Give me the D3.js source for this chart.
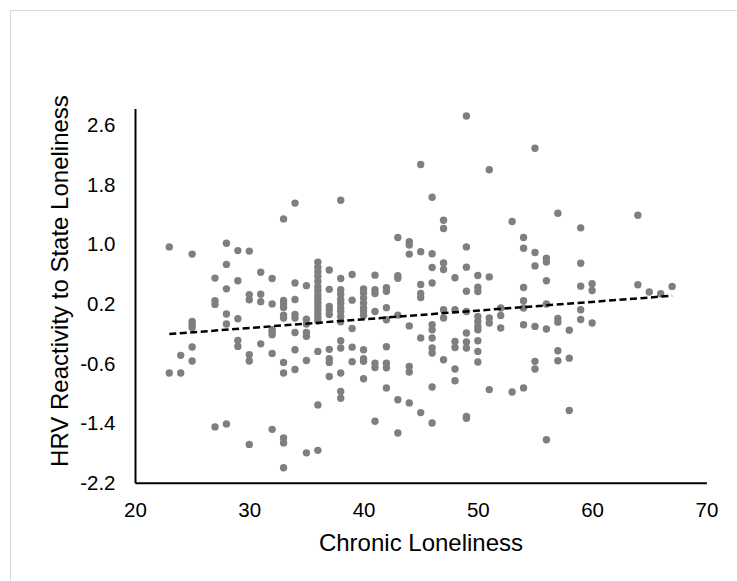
<!DOCTYPE html>
<html>
<head>
<meta charset="utf-8">
<script src="https://cdn.jsdelivr.net/npm/d3@7"></script>
<style>
  html, body { margin: 0; padding: 0; background: #fff; }
  svg { display: block; }
  text { font-family: "Liberation Sans", Arial, sans-serif; }
</style>
</head>
<body>
<div id="chart"></div>
<script>
// ---- Data ----
const chronicLevels = [23, 24, 25, 27, 28, 29, 30, 31, 32, 33, 34, 35, 36, 37, 38, 39, 40, 41, 42, 43, 44, 45, 46, 47, 48, 49, 50, 51, 52, 53, 54, 55, 56, 57, 58, 59, 60, 64, 65, 66, 67];
const hrvByLevel = [
  [0.965, -0.726],
  [-0.49, -0.726],
  [0.868, -0.035, -0.08, -0.116, -0.378, -0.566],
  [0.546, 0.243, 0.193, -1.45],
  [1.013, 0.73, 0.402, 0.064, -0.07, -1.41],
  [0.915, 0.51, 0.0, -0.29, -0.37],
  [0.908, 0.325, 0.256, -0.482, -0.567, -1.685],
  [0.625, 0.33, 0.23, -0.336],
  [0.54, 0.20, -0.146, -0.177, -0.213, -0.464, -1.483],
  [1.34, 0.245, 0.20, 0.153, 0.05, 0.01, -0.585, -0.726, -1.598, -1.665, -1.998],
  [1.552, 0.48, 0.26, 0.06, 0.01, -0.183, -0.415, -0.68],
  [0.445, -0.005, -0.07, -0.184, -0.235, -0.56, -1.798],
  [0.76, 0.69, 0.63, 0.57, 0.50, 0.43, 0.38, 0.32, 0.27, 0.22, 0.17, 0.12, 0.07, 0.02, -0.03, -0.437, -1.155, -1.765],
  [0.655, 0.395, 0.165, 0.12, 0.058, -0.41, -0.535, -0.585, -0.773],
  [1.59, 0.54, 0.39, 0.33, 0.26, 0.21, 0.144, 0.099, 0.032, -0.04, -0.294, -0.392, -0.726, -0.975, -1.065],
  [0.594, 0.25, -0.13, -0.38, -0.575],
  [0.40, 0.345, 0.278, 0.211, 0.144, 0.099, 0.045, -0.416, -0.535, -0.571, -0.805],
  [0.586, 0.39, 0.34, 0.099, -0.595, -0.653, -1.375],
  [0.417, 0.37, 0.15, -0.012, -0.374, -0.597, -0.657, -0.927],
  [1.09, 0.577, 0.543, 0.05, -1.085, -1.532],
  [1.035, 0.99, 0.868, -0.095, -0.64, -0.714, -1.128],
  [2.07, 0.9, 0.46, 0.34, 0.285, -0.256, -1.258],
  [1.63, 0.872, 0.689, 0.48, -0.079, -0.146, -0.258, -0.392, -0.459, -0.914, -1.398],
  [1.323, 1.211, 0.748, 0.661, 0.121, 0.01, -0.55],
  [0.55, 0.121, -0.303, -0.384, -0.673, -0.83],
  [2.72, 0.965, 0.693, 0.37, 0.099, -0.19, -0.311, -0.392, -1.31, -1.335],
  [0.58, 0.425, 0.367, 0.032, -0.035, -0.102, -0.146, -0.294, -0.437, -0.579],
  [2.0, 0.562, 0.012, -0.057, -0.95],
  [0.144, 0.045, -0.124],
  [1.305, -0.981],
  [1.09, 0.946, 0.42, 0.242, 0.144, -0.08, -0.927],
  [2.288, 0.889, 0.71, -0.102, -0.571, -0.673],
  [0.814, 0.762, 0.51, 0.198, -0.137, -1.622],
  [1.416, 0.005, -0.045, -0.428, -0.562],
  [-0.152, -0.528, -1.23],
  [1.22, 0.746, 0.438, 0.121, -0.01],
  [0.47, 0.38, -0.057],
  [1.39, 0.456],
  [0.36],
  [0.336],
  [0.435]
];
const trendX = [23, 67];
const trendY = [-0.205, 0.309];
const xTicks = [20, 30, 40, 50, 60, 70];
const yTicks = [-2.2, -1.4, -0.6, 0.2, 1.0, 1.8, 2.6];
const xTitle = "Chronic Loneliness";
const yTitle = "HRV Reactivity to State Loneliness";

// ---- Build point table ----
const points = [];
chronicLevels.forEach((c, i) => hrvByLevel[i].forEach(v => points.push({x: c, y: v})));

const W = 737, H = 581;
const svg = d3.select("#chart").append("svg").attr("width", W).attr("height", H);

// chart frame
svg.append("rect")
  .attr("x", 10.5).attr("y", 10.5).attr("width", 760).attr("height", 600)
  .attr("fill", "none").attr("stroke", "#d9d9d9").attr("stroke-width", 1);

const x = d3.scaleLinear().domain([20, 70]).range([135, 706.4]);
const y = d3.scaleLinear().domain([-2.2, 2.82]).range([482.8, 108.6]);

// points
svg.append("g").selectAll("circle").data(points).join("circle")
  .attr("cx", d => x(d.x)).attr("cy", d => y(d.y)).attr("r", 3.7)
  .attr("fill", "#7f7f7f");

// trendline
const trend = trendX.map((v, i) => ({x: v, y: trendY[i]}));
svg.append("path")
  .datum(trend)
  .attr("d", d3.line().x(d => x(d.x)).y(d => y(d.y)))
  .attr("fill", "none").attr("stroke", "#000").attr("stroke-width", 2.5)
  .attr("stroke-dasharray", "7,3.5");

// axes (plain hyphen-minus as in the reference)
const fmtY = d => d3.format(".1f")(d).replace("\u2212", "-");
const xAxis = d3.axisBottom(x).tickValues(xTicks).tickSize(0).tickSizeOuter(0).tickPadding(19.6).tickFormat(d3.format("d"));
const yAxis = d3.axisLeft(y).tickValues(yTicks).tickSize(0).tickSizeOuter(0).tickPadding(19.5).tickFormat(fmtY);

const gx = svg.append("g").attr("transform", `translate(0,${y(-2.2)})`).call(xAxis);
const gy = svg.append("g").attr("transform", `translate(${x(20)},0)`).call(yAxis);
[gx, gy].forEach(g => {
  g.select(".domain").attr("stroke", "#000").attr("stroke-width", 2);
  g.selectAll("text").attr("font-size", "20.5px").attr("fill", "#000")
    .attr("font-family", "'Liberation Sans', Arial, sans-serif");
});

// titles
svg.append("text")
  .attr("x", 421).attr("y", 551)
  .attr("text-anchor", "middle").attr("font-size", "24px").attr("fill", "#000")
  .text(xTitle);
svg.append("text")
  .attr("transform", "translate(68.3,281) rotate(-90)")
  .attr("text-anchor", "middle").attr("font-size", "24px").attr("fill", "#000")
  .text(yTitle);
</script>
</body>
</html>
